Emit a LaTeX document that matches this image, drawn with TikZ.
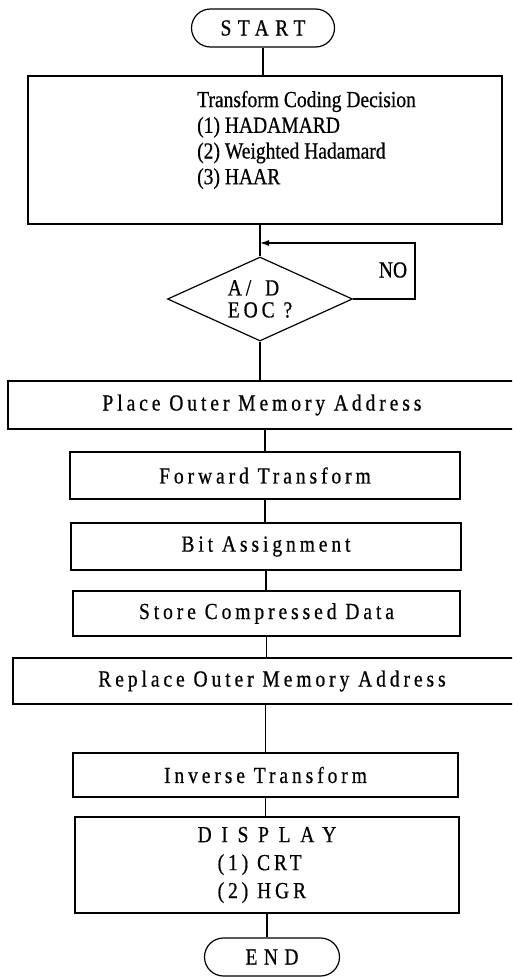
\documentclass[tikz,border=0pt]{standalone}
\usepackage{fontspec}
\setmainfont{Liberation Serif}[FakeStretch=0.85,FakeBold=0.6]
\newfontfamily\spacedfnt{Liberation Serif}[FakeStretch=0.85,FakeBold=0.6,LetterSpace=17]
\newfontfamily\termfnt{Liberation Serif}[FakeStretch=0.85,FakeBold=0.6,LetterSpace=28]
\newfontfamily\widefnt{Liberation Serif}[FakeStretch=0.85,FakeBold=0.6,LetterSpace=42]
\usetikzlibrary{shapes.geometric,arrows.meta}
\tikzset{
  flow/.style={line width=1.2pt},
  procbox/.style={draw, line width=1.2pt, inner sep=0pt, font=\spacedfnt\fontsize{23}{25}\selectfont},
  termbox/.style={draw, line width=1.2pt, rounded corners=19pt, inner sep=0pt, minimum height=38pt, font=\termfnt\fontsize{23}{25}\selectfont},
  plaintext/.style={inner sep=0pt, font=\fontsize{23}{25.7}\selectfont, align=left},
}
\begin{document}
\begin{tikzpicture}[x=1pt,y=-1pt]
\useasboundingbox (0,0) rectangle (512,977);
\begin{scope}
\clip (0,0) rectangle (512,977);
\node[termbox, minimum width=143pt] (start) at (263,28) {START};
\node[procbox, minimum width=474pt, minimum height=148pt] (tcd) at (265,150) {};
\node[plaintext, anchor=west] (tcdtxt) at (197,140) {Transform Coding Decision\\(1) HADAMARD\\(2) Weighted Hadamard\\(3) HAAR};
\node[draw, diamond, line width=1.2pt, aspect=2.2, minimum width=185pt, minimum height=84pt, inner sep=0pt, align=left, font=\spacedfnt\fontsize{23}{22}\selectfont] (dia) at (260,299) {A/\hspace{5pt} D\\EOC ?};
\node[inner sep=0pt, font=\fontsize{23}{25}\selectfont] (no) at (393,270) {NO};
\coordinate (nocorner) at (415,243);
\coordinate (join) at (dia.north |- nocorner);
\draw[flow] (dia.north |- tcd.south) -- (dia.north);
\draw[flow, -{Latex[length=9pt,width=6pt]}] (dia.east) -| (nocorner) -- (join);
\draw[flow] (start.south) -- (start.south |- tcd.north);

\node[procbox, minimum width=508pt, minimum height=48pt] (place) at (262,405) {Place Outer Memory Address};
\draw[flow] (dia.south) -- (dia.south |- place.north);
\node[procbox, minimum width=390pt, minimum height=47pt] (fwd) at (265,475.5) {Forward Transform};
\draw[flow] (fwd.north |- place.south) -- (fwd.north);
\node[procbox, minimum width=390pt, minimum height=47pt] (bit) at (266,546.5) {Bit Assignment};
\draw[flow] (fwd.south) -- (fwd.south |- bit.north);
\node[procbox, minimum width=387pt, minimum height=45pt] (store) at (266.5,613.5) {Store Compressed Data};
\draw[flow] (bit.south) -- (bit.south |- store.north);
\node[procbox, minimum width=518pt, minimum height=46pt] (replace) at (272,681) {Replace Outer Memory Address};
\draw[flow] (store.south) -- (store.south |- replace.north);
\node[procbox, minimum width=385pt, minimum height=44pt] (inverse) at (265.5,775) {Inverse Transform};
\draw[flow] (inverse.north |- replace.south) -- (inverse.north);
\node[procbox, minimum width=384pt, minimum height=96pt, align=left, font=\spacedfnt\fontsize{23}{28}\selectfont] (display) at (267,865) {{\widefnt DISPLAY}\\\hspace*{20pt}(1) CRT\\\hspace*{20pt}(2) HGR};
\draw[flow] (inverse.south) -- (inverse.south |- display.north);
\node[termbox, minimum width=135pt] (end) at (272,957) {END};
\draw[flow] (display.south) -- (display.south |- end.north);
\end{scope}
\end{tikzpicture}
\end{document}
